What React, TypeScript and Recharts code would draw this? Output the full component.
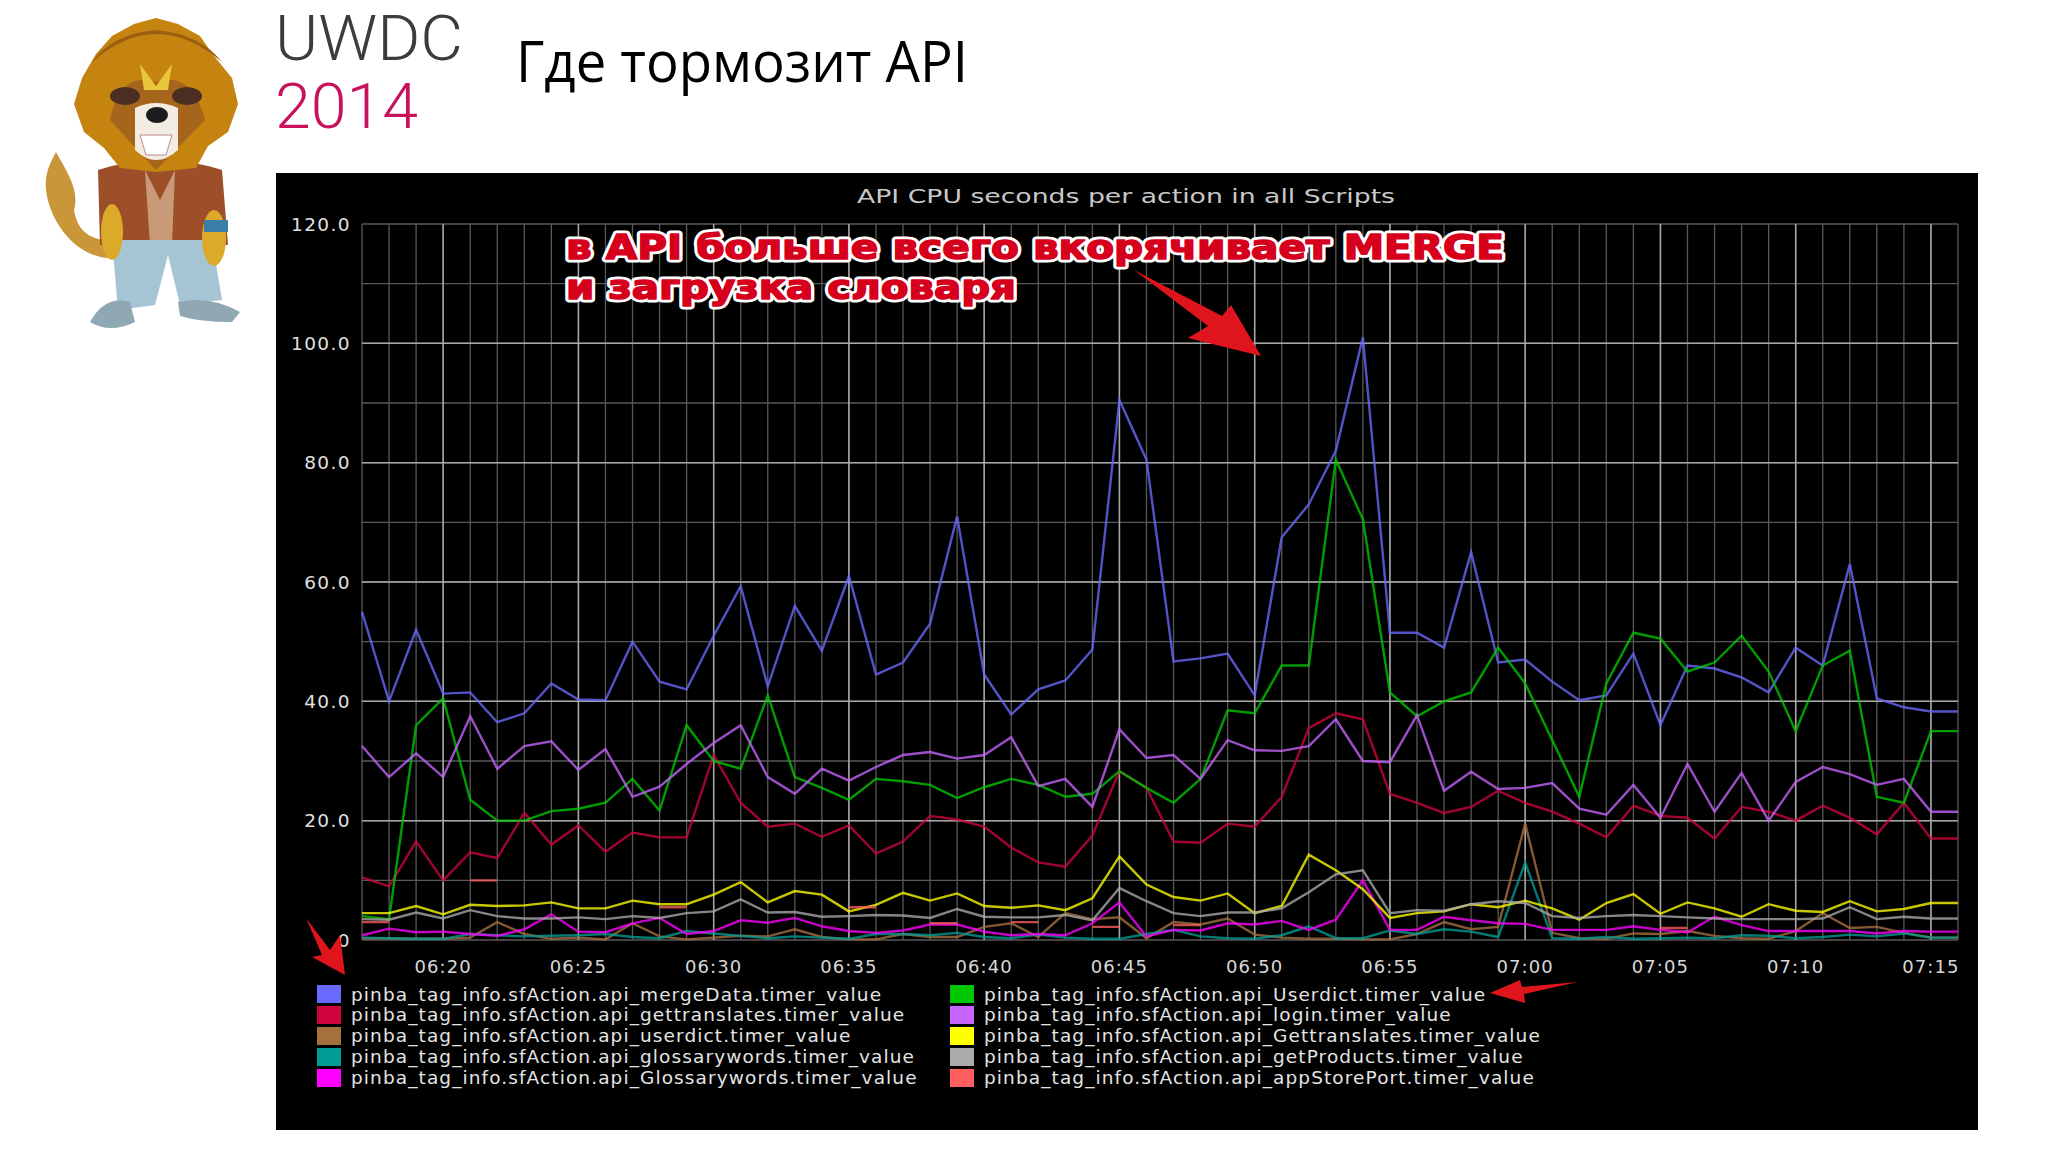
import React from 'react';
import { LineChart, Line, XAxis, YAxis, CartesianGrid, Legend } from 'recharts';

const n = null;

const minutes = [
  '06:17', '06:18', '06:19', '06:20', '06:21', '06:22', '06:23', '06:24', '06:25', '06:26',
  '06:27', '06:28', '06:29', '06:30', '06:31', '06:32', '06:33', '06:34', '06:35', '06:36',
  '06:37', '06:38', '06:39', '06:40', '06:41', '06:42', '06:43', '06:44', '06:45', '06:46',
  '06:47', '06:48', '06:49', '06:50', '06:51', '06:52', '06:53', '06:54', '06:55', '06:56',
  '06:57', '06:58', '06:59', '07:00', '07:01', '07:02', '07:03', '07:04', '07:05', '07:06',
  '07:07', '07:08', '07:09', '07:10', '07:11', '07:12', '07:13', '07:14', '07:15', '07:16',
];

const mergeData = [55, 40, 52, 41.3, 41.5, 36.5, 38, 43, 40.3, 40.2, 50, 43.3, 42, 51, 59.3, 42.5, 56, 48.5, 61, 44.5, 46.5, 53, 71, 44.5, 37.8, 42, 43.5, 48.7, 90.5, 80.5, 46.7, 47.2, 48, 41, 67.5, 73, 82, 101, 51.5, 51.5, 49, 65, 46.5, 47, 43.3, 40.2, 41, 48, 36, 46, 45.5, 44, 41.5, 49, 46, 63, 40.5, 39, 38.3, 38.3];
const gettranslates = [10.5, 9, 16.5, 10, 14.7, 13.7, 21.3, 16, 19.2, 14.8, 18, 17.2, 17.2, 31, 23, 19, 19.5, 17.3, 19.2, 14.5, 16.5, 20.8, 20.2, 19, 15.5, 13, 12.3, 17.5, 28.3, 25.5, 16.5, 16.3, 19.5, 19, 24, 35.5, 38, 37, 24.5, 23, 21.3, 22.3, 25, 23, 21.5, 19.5, 17.2, 22.5, 20.8, 20.5, 17, 22.3, 21.5, 20, 22.5, 20.5, 17.7, 23, 17, 17];
const userdict = [0.3, 0.3, 0.2, 0.2, 0.4, 3, 1, 0.2, 0.4, 0.1, 2.8, 0.6, 0.1, 0.4, 0.7, 0.6, 1.8, 0.5, 0.1, 0.1, 1, 0.5, 0.5, 2.2, 2.8, 0.5, 4.5, 3.5, 3.8, 0.3, 3, 2.6, 3.6, 0.9, 0.4, 0.2, 0.2, 0.1, 0.1, 1, 3, 1.8, 2.2, 19.5, 1.2, 0.3, 0.2, 1.1, 1, 1.5, 0.7, 0.3, 0.2, 1.5, 4.5, 2, 2.2, 1.2, 0.4, 0.4];
const glossarywords = [0.4, 0.3, 0.2, 0.2, 1, 0.8, 0.6, 0.7, 0.8, 1, 0.5, 0.3, 1.5, 1.1, 0.7, 0.3, 0.6, 0.4, 0.2, 1, 1, 0.8, 1.2, 0.5, 0.3, 0.9, 0.4, 0.2, 0.2, 1, 1.7, 0.6, 0.3, 0.2, 0.8, 2.3, 0.3, 0.3, 1.6, 1, 1.8, 1.4, 0.5, 13, 0.3, 0.2, 0.5, 0.2, 0.3, 0.4, 0.3, 0.8, 0.7, 0.3, 0.5, 0.9, 0.6, 1.1, 0.4, 0.4];
const GlossarywordsUpper = [0.8, 1.9, 1.3, 1.4, 1, 0.7, 1.8, 4.3, 1.4, 1.3, 2.8, 3.7, 1, 1.5, 3.3, 2.9, 3.7, 2.3, 1.5, 1.2, 1.6, 2.6, 2.6, 1.4, 0.8, 1, 0.8, 2.8, 6.3, 0.6, 1.7, 1.6, 2.8, 2.6, 3.2, 1.7, 3.4, 10, 1.7, 1.7, 3.9, 3.3, 2.8, 2.7, 1.7, 1.7, 1.7, 2.3, 1.7, 1.3, 3.9, 2.5, 1.5, 1.5, 1.5, 1.5, 1.1, 1.5, 1.4, 1.4];
const UserdictUpper = [4, 3.5, 36, 40.5, 23.5, 20, 20, 21.6, 22, 23, 27, 21.7, 36, 30, 28.7, 41, 27.3, 25.5, 23.5, 27, 26.6, 26, 23.8, 25.6, 27, 26, 24, 24.5, 28.3, 25.5, 23, 27, 38.5, 38, 46, 46, 80.5, 70.5, 41.5, 37.5, 40, 41.5, 49, 43, 33.5, 24, 43, 51.5, 50.5, 45, 46.5, 51, 45, 35, 46, 48.5, 24, 23, 35, 35];
const login = [32.5, 27.3, 31.3, 27.3, 37.5, 28.7, 32.5, 33.3, 28.5, 32, 24, 25.7, 29.5, 33, 36, 27.3, 24.5, 28.7, 26.7, 29, 31, 31.5, 30.4, 31, 34, 25.8, 27, 22.3, 35.3, 30.5, 31, 27, 33.5, 31.8, 31.7, 32.5, 37, 30, 29.8, 37.7, 25, 28.2, 25.3, 25.5, 26.3, 22, 21, 26, 20.5, 29.5, 21.5, 28, 20, 26.5, 29, 27.8, 26, 27, 21.5, 21.5];
const GettranslatesUpper = [4.5, 4.5, 5.7, 4.3, 5.9, 5.7, 5.8, 6.3, 5.3, 5.3, 6.6, 6, 6, 7.6, 9.7, 6.3, 8.2, 7.6, 4.8, 5.9, 7.9, 6.6, 7.8, 5.7, 5.4, 5.8, 5, 7, 14, 9.3, 7.2, 6.6, 7.8, 4.5, 5.7, 14.3, 11.7, 8.5, 3.7, 4.5, 4.8, 6, 5.5, 6.6, 5.3, 3.4, 6.2, 7.7, 4.4, 6.3, 5.3, 3.9, 6, 4.9, 4.7, 6.5, 4.8, 5.2, 6.2, 6.2];
const getProducts = [3.5, 3.4, 4.6, 3.6, 5, 4, 3.6, 3.6, 3.8, 3.5, 4, 3.7, 4.5, 4.8, 6.8, 4.6, 4.7, 3.9, 4, 4.2, 4.1, 3.7, 5.2, 3.9, 3.8, 3.8, 4.2, 3.3, 8.7, 6.5, 4.5, 4, 4.6, 4.6, 5.3, 8, 11, 11.7, 4.5, 5, 4.9, 6, 6.5, 6.2, 4, 3.7, 4, 4.2, 4, 3.8, 3.6, 3.5, 3.5, 3.5, 3.6, 5.5, 3.5, 3.9, 3.6, 3.6];
const appStorePort = [3, 3, n, n, 10, 10, n, n, n, n, n, 5.5, 5.5, n, n, n, n, n, 5.5, 5.5, n, 2.8, 2.8, n, 3, 3, n, 2.2, 2.2, n, 2.5, 2.5, n, n, n, n, n, n, n, n, n, n, n, n, n, n, n, n, 2, 2, n, n, n, n, n, n, n, n, n, n];

const seriesKeys = ['mergeData', 'gettranslates', 'userdict', 'glossarywords', 'Glossarywords', 'Userdict', 'login', 'Gettranslates', 'getProducts', 'appStorePort'];
const seriesValues = [mergeData, gettranslates, userdict, glossarywords, GlossarywordsUpper, UserdictUpper, login, GettranslatesUpper, getProducts, appStorePort];
const seriesColors = ['#6a6aff', '#d0043c', '#a5713f', '#009c96', '#ff00ff', '#00c800', '#c864ff', '#ffff00', '#aaaaaa', '#ff5f5f'];

const yTicks = [0, 20, 40, 60, 80, 100, 120];
const yMinor = [0, 10, 20, 30, 40, 50, 60, 70, 80, 90, 100, 110, 120];
const xTicks = [3, 8, 13, 18, 23, 28, 33, 38, 43, 48, 53, 58];

const rows = minutes.map((m, i) => {
  const row: any = { x: i, time: m };
  seriesKeys.forEach((k, j) => { row[k] = seriesValues[j][i]; });
  return row;
});

const seriesName = (k: string) => `pinba_tag_info.sfAction.api_${k}.timer_value`;

const LegendBox = ({ payload }: any) => {
  // recharts sorts the payload by name, the picture keeps the series order
  const items = seriesKeys.map(k => (payload || []).find((p: any) => p.value === seriesName(k))).filter(Boolean);
  return (
    <div style={{ position: 'relative', width: 1702, height: 106, fontFamily: 'DejaVu Sans', fontSize: 18.5, color: '#e4e4e4' }}>
      {items.map((it: any, i: number) => {
        const col = i < 5 ? 41 : 674;
        const row = i % 5;
        return (
          <div key={it.value} style={{ position: 'absolute', left: col, top: row * 20.9, height: 20, display: 'flex', alignItems: 'center', whiteSpace: 'nowrap' }}>
            <span style={{ width: 24, height: 18, background: it.color, marginRight: 10, display: 'inline-block' }} />
            <span style={{ letterSpacing: 1.1 }}>{it.value}</span>
          </div>
        );
      })}
    </div>
  );
};

const Lion = () => (
  <g>
    <path d="M118 258 C80 262 50 225 46 190 C44 172 52 160 56 152 C66 170 80 190 74 210 C78 235 95 242 118 240 Z" fill="#c9973a" />
    <path d="M98 170 Q160 150 222 170 L228 245 L100 245 Z" fill="#9c4f28" />
    <path d="M145 170 L160 200 L175 170 L172 245 L150 245 Z" fill="#c89a78" />
    <path d="M112 240 L212 240 L222 300 L180 305 L168 255 L155 305 L118 310 Z" fill="#a5c4d4" />
    <path d="M90 322 Q105 295 130 302 L135 322 Q110 334 90 322 Z" fill="#8fa8b4" />
    <path d="M178 302 Q210 295 240 312 L232 322 Q200 322 180 316 Z" fill="#8fa8b4" />
    <ellipse cx="112" cy="232" rx="11" ry="28" fill="#dcaa2a" />
    <ellipse cx="214" cy="238" rx="12" ry="28" fill="#dcaa2a" />
    <rect x="204" y="220" width="24" height="12" fill="#3a7fa8" />
    <path d="M156 18 L178 24 L200 36 L214 56 L232 78 L238 104 L228 132 L208 146 L196 168 L156 172 L120 168 L104 148 L84 132 L74 104 L82 78 L96 54 L112 36 L134 24 Z" fill="#c5830f" />
    <path d="M92 62 Q156 6 222 62 Q200 34 156 30 Q112 34 92 62 Z" fill="#9a5f10" />
    <path d="M156 170 L110 120 Q120 70 156 82 Q192 70 205 120 Z" fill="#a5651c" />
    <path d="M140 64 L156 86 L172 64 L168 90 L144 90 Z" fill="#e8c53a" />
    <ellipse cx="125" cy="96" rx="15" ry="9" fill="#4a2f22" />
    <ellipse cx="187" cy="96" rx="15" ry="9" fill="#4a2f22" />
    <path d="M135 108 Q156 98 178 108 L178 150 Q156 170 135 150 Z" fill="#f3ece2" />
    <ellipse cx="157" cy="115" rx="11" ry="8" fill="#1c1c1c" />
    <path d="M140 135 L172 135 L166 155 L146 155 Z" fill="#fff" stroke="#b88" strokeWidth="1" />
  </g>
);

export default function App() {
  return (
    <div style={{ position: 'absolute', left: 0, top: 0, width: 2048, height: 1152, background: '#fff', overflow: 'hidden' }}>
      <svg width={2048} height={1152} style={{ position: 'absolute', left: 0, top: 0 }}>
        <Lion />
        <text x={275} y={60} fontFamily="Roboto" fontWeight={300} fontSize={63} fill="#3c3c3c" textLength={188} lengthAdjust="spacingAndGlyphs">UWDC</text>
        <text x={275} y={128} fontFamily="Roboto" fontWeight={300} fontSize={63} fill="#c8125c" textLength={143} lengthAdjust="spacingAndGlyphs">2014</text>
        <text x={516} y={82} fontFamily="Open Sans" fontSize={56} fill="#000" textLength={452} lengthAdjust="spacingAndGlyphs">Где тормозит API</text>
      </svg>

      <div style={{ position: 'absolute', left: 276, top: 173, width: 1702, height: 957, background: '#000' }}>
        <LineChart width={1702} height={957} data={rows} margin={{ top: 51, right: 20, bottom: 0, left: 0 }}>
          <CartesianGrid stroke="#585858" strokeWidth={1.3} horizontalValues={yMinor} verticalValues={minutes.map((_, i) => i)} />
          <CartesianGrid stroke="#a8a8a8" strokeWidth={1.5} horizontalValues={yTicks.slice(1, -1)} verticalValues={xTicks} />
          <XAxis
            type="number"
            dataKey="x"
            domain={[0, 59]}
            ticks={xTicks}
            tickFormatter={(v: number) => minutes[v]}
            height={84}
            axisLine={false}
            tickLine={false}
            tickMargin={14}
            interval={0}
            tick={{ fill: '#d8d8d8', fontFamily: 'DejaVu Sans', fontSize: 18, letterSpacing: 1.1 }}
          />
          <YAxis
            type="number"
            domain={[0, 120]}
            ticks={yTicks}
            tickFormatter={(v: number) => (v === 0 ? '0' : v.toFixed(1))}
            width={86}
            axisLine={false}
            tickLine={false}
            tickMargin={5}
            interval={0}
            tick={{ fill: '#e0e0e0', fontFamily: 'DejaVu Sans', fontSize: 18.5, letterSpacing: 1.4 }}
          />
          {seriesKeys.map((k, i) => (
            <Line
              key={k}
              type="linear"
              dataKey={k}
              name={seriesName(k)}
              stroke={seriesColors[i]}
              strokeOpacity={0.78}
              strokeWidth={2.4}
              dot={false}
              connectNulls={false}
              isAnimationActive={false}
            />
          ))}
          <Legend verticalAlign="bottom" content={<LegendBox />} wrapperStyle={{ left: 0, bottom: 40, width: 1702 }} />
        </LineChart>
      </div>

      <svg width={2048} height={1152} style={{ position: 'absolute', left: 0, top: 0, pointerEvents: 'none' }}>
        <text x={1126} y={203} textAnchor="middle" fontFamily="DejaVu Sans" fontSize={20} fill="#c8c8c8" textLength={538} lengthAdjust="spacingAndGlyphs">API CPU seconds per action in all Scripts</text>
        <g fontFamily="DejaVu Sans" fontWeight="bold" fontSize={34} strokeLinejoin="round">
          <g fill="#fff" stroke="#fff" strokeWidth={7}>
            <text x={566} y={259} textLength={938} lengthAdjust="spacingAndGlyphs">в API больше всего вкорячивает MERGE</text>
            <text x={566} y={299} textLength={450} lengthAdjust="spacingAndGlyphs">и загрузка словаря</text>
          </g>
          <g fill="#d6001c" stroke="#d6001c" strokeWidth={1.6}>
            <text x={566} y={259} textLength={938} lengthAdjust="spacingAndGlyphs">в API больше всего вкорячивает MERGE</text>
            <text x={566} y={299} textLength={450} lengthAdjust="spacingAndGlyphs">и загрузка словаря</text>
          </g>
        </g>
        <polygon points="1134,270 1222,316 1231,305 1261,356 1188,338 1208,326" fill="#e0141c" />
        <polygon points="306,918 330,950 340,935 345,975 312,957 322,955" fill="#e0141c" />
        <polygon points="1490,993 1520,980 1522,987 1578,982 1524,994 1525,1003" fill="#e0141c" />
      </svg>
    </div>
  );
}
